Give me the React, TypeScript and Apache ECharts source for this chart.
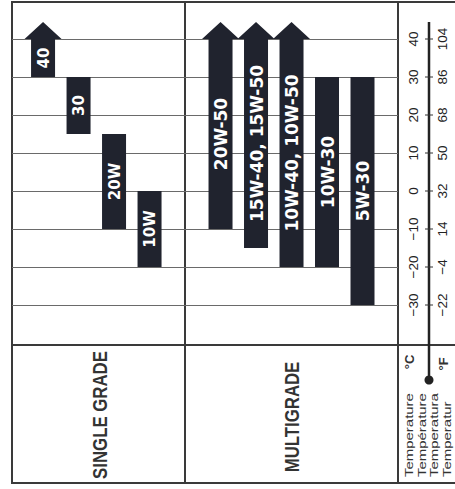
import React, { useEffect, useRef } from "react";
import * as echarts from "echarts";

// ---- data ----
const singleGrades = ["40", "30", "20W", "10W"];
const singleLow = [30, 15, -10, -20];
const singleHigh = [40, 30, 15, 0];
const singleOpenTop = [true, false, false, false];

const multiGrades = ["20W-50", "15W-40, 15W-50", "10W-40, 10W-50", "10W-30", "5W-30"];
const multiLow = [-10, -15, -20, -20, -30];
const multiHigh = [40, 40, 40, 30, 30];
const multiOpenTop = [true, true, true, false, false];

const celsiusTicks = [-30, -20, -10, 0, 10, 20, 30, 40];
const celsiusLabels = ["−30", "−20", "−10", "0", "10", "20", "30", "40"];
const fahrenheitLabels = ["−22", "−4", "14", "32", "50", "68", "86", "104"];

const sectionTitles = ["SINGLE GRADE", "MULTIGRADE"];
const tempWords = ["Temperature", "Température", "Temperatura", "Temperatur"];

const BAR = "#20232e";
const LINE = "#3a3a3a";
const ROT = Math.PI / 2;

type Row = { slot: number; low: number; high: number; open: boolean; label: string; multi: boolean };
const rows: Row[] = [
  ...singleGrades.map((g, i) => ({ slot: i, low: singleLow[i], high: singleHigh[i], open: singleOpenTop[i], label: g, multi: false })),
  ...multiGrades.map((g, i) => ({ slot: singleGrades.length + 1 + i, low: multiLow[i], high: multiHigh[i], open: multiOpenTop[i], label: g, multi: true })),
];

function txt(x: number, y: number, text: string, font: string, fill: string, align = "center", scaleX = 1) {
  return {
    type: "text",
    x,
    y,
    rotation: ROT,
    scaleX,
    silent: true,
    style: { text, font, fill, align, verticalAlign: "middle", textAlign: align, textVerticalAlign: "middle" },
  };
}

export default function App() {
  const ref = useRef<HTMLDivElement>(null);
  useEffect(() => {
    if (!ref.current) return;
    const chart = echarts.init(ref.current, undefined, { renderer: "svg" });
    const lineSeg = (x1: number, y1: number, x2: number, y2: number, w = 2, c = LINE) => ({
      type: "line",
      silent: true,
      shape: { x1, y1, x2, y2 },
      style: { stroke: c, lineWidth: w },
    });
    chart.setOption({
      animation: false,
      backgroundColor: "#ffffff",
      grid: { left: 12, right: 57, top: 1, bottom: 146 },
      xAxis: { type: "value", min: -0.875, max: 10, show: false },
      yAxis: {
        type: "value",
        min: -40,
        max: 50,
        interval: 10,
        axisLine: { show: false },
        axisTick: { show: false },
        axisLabel: { show: false },
        splitLine: { show: true, showMinLine: false, showMaxLine: false, lineStyle: { color: "#6a6a6a", width: 1 } },
      },
      series: [
        {
          type: "custom",
          data: rows.map((r) => [r.slot, r.low, r.high]),
          renderItem: (params: any, api: any) => {
            const r = rows[params.dataIndex];
            const slot = api.value(0);
            const pLow = api.coord([slot, api.value(1)]);
            const pHigh = api.coord([slot, api.value(2)]);
            const cx = pLow[0];
            const hw = 12;
            const children: any[] = [];
            if (r.open) {
              const head = 18.5;
              const tip = pHigh[1] - 17;
              children.push({
                type: "polygon",
                shape: {
                  points: [
                    [cx - hw, pLow[1]],
                    [cx - hw, pHigh[1]],
                    [cx - head, pHigh[1]],
                    [cx, tip],
                    [cx + head, pHigh[1]],
                    [cx + hw, pHigh[1]],
                    [cx + hw, pLow[1]],
                  ],
                },
                style: { fill: BAR },
              });
            } else {
              children.push({
                type: "rect",
                shape: { x: cx - hw, y: pHigh[1], width: hw * 2, height: pLow[1] - pHigh[1] },
                style: { fill: BAR },
              });
            }
            children.push(
              txt(cx + 0.5, (pLow[1] + pHigh[1]) / 2, r.label, r.multi ? "bold 17px 'DejaVu Sans'" : "bold 15px 'DejaVu Sans'", "#ffffff")
            );
            return { type: "group", children };
          },
        },
        {
          type: "custom",
          data: celsiusTicks.map((c) => [0, c]),
          renderItem: (params: any, api: any) => {
            const i = params.dataIndex;
            const p = api.coord([0, api.value(1)]);
            const right = params.coordSys.x + params.coordSys.width;
            const y = p[1];
            return {
              type: "group",
              children: [
                { type: "line", shape: { x1: right + 27, y1: y, x2: right + 35, y2: y }, style: { stroke: "#333", lineWidth: 1 } },
                txt(right + 15, y, celsiusLabels[i], "13.5px 'Liberation Sans'", "#222"),
                txt(right + 44, y, fahrenheitLabels[i], "13.5px 'Liberation Sans'", "#222"),
              ],
            };
          },
        },
      ],
      graphic: [
        lineSeg(11, 2, 455, 2),
        lineSeg(12, 1, 12, 484),
        lineSeg(11, 483, 455, 483),
        lineSeg(185, 2, 185, 483),
        lineSeg(398, 2, 398, 483),
        lineSeg(12, 345, 455, 345),
        lineSeg(429, 22, 429, 380, 2.5, "#222"),
        { type: "circle", silent: true, shape: { cx: 429, cy: 380, r: 4.5 }, style: { fill: "#222" } },
        txt(409, 362, "°C", "bold 13px 'Liberation Sans'", "#333"),
        txt(443, 364, "°F", "bold 13px 'Liberation Sans'", "#333"),
        ...tempWords.map((w, i) => txt(409 + i * 12.7, 477, w, "11.5px 'Liberation Sans'", "#333", "left", 1.3)),
        txt(100, 415, sectionTitles[0], "bold 21px 'Liberation Sans'", "#333", "center", 0.8),
        txt(292, 417, sectionTitles[1], "bold 21px 'Liberation Sans'", "#333", "center", 0.8),
      ],
    });
    return () => chart.dispose();
  }, []);
  return <div ref={ref} style={{ position: "fixed", left: 0, top: 0, width: 455, height: 489 }} />;
}
